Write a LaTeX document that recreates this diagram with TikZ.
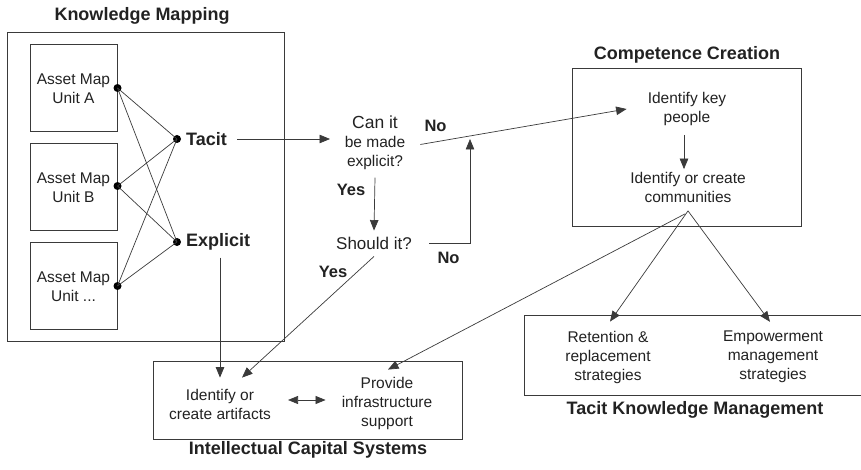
\documentclass[tikz,border=0pt]{standalone}
\usepackage{fontspec}
\setmainfont{Liberation Sans}
\usetikzlibrary{arrows.meta}
\definecolor{ink}{HTML}{222222}
\definecolor{rule}{HTML}{3A3A3A}
\begin{document}
\begin{tikzpicture}[x=1pt,y=-1pt,
  txt/.style={align=center,inner sep=0pt,text=ink,font=\fontsize{15.5}{19}\selectfont},
  ttl/.style={inner sep=0pt,text=ink,font=\bfseries\fontsize{18}{20}\selectfont},
  yn/.style={inner sep=0pt,text=ink,font=\bfseries\fontsize{16.5}{18}\selectfont},
  box/.style={draw=rule,line width=0.9pt,inner sep=0pt},
  dot/.style={circle,fill=black,inner sep=0pt,minimum size=8pt},
  wire/.style={draw=rule,line width=0.7pt},
  arr/.style={wire,-{Triangle[length=10.5pt,width=8.5pt]}},
  darr/.style={wire,{Triangle[length=10pt,width=8pt]}-{Triangle[length=10pt,width=8pt]}}]
\useasboundingbox (0,0) rectangle (861,470);

% ---- Knowledge Mapping ----
\node[ttl] (kmt) at (142,16) {Knowledge Mapping};
\node[box,minimum width=277pt,minimum height=309pt] (km) at (145.5,186.5) {};
\node[box,minimum width=87pt,minimum height=87pt] (ua) at (73.5,87.5) {};
\node[box,minimum width=87pt,minimum height=87pt] (ub) at (73.5,186.5) {};
\node[box,minimum width=87pt,minimum height=87pt] (uc) at (73.5,285.5) {};
\node[txt] at (73.5,89) {Asset Map\\Unit A};
\node[txt] at (73.5,188) {Asset Map\\Unit B};
\node[txt] at (73.5,287) {Asset Map\\Unit ...};
\node[dot] (da) at (117.5,88) {};
\node[dot] (db) at (117.5,186) {};
\node[dot] (dc) at (117.5,286) {};
\node[dot] (dt) at (177,139) {};
\node[dot] (de) at (177,242) {};
\node[ttl,anchor=west] (tacit) at (186,139) {Tacit};
\node[ttl,anchor=west] (expl) at (186,242) {Explicit};
\foreach \s in {da,db,dc}{
  \draw[wire] (\s.center) -- (dt.center);
  \draw[wire] (\s.center) -- (de.center);
}

% ---- decisions ----
\node[txt] (canit) at (375,142.5) {{\fontsize{17.5}{19}\selectfont Can it}\\be made\\explicit?};
\node[txt,font=\fontsize{17}{19}\selectfont] (should) at (374,243) {Should it?};
\node[yn] at (435.5,126) {No};
\node[yn] at (448.5,257.5) {No};
\node[yn] at (351,189.5) {Yes};
\node[yn] at (333,271.5) {Yes};

% ---- Competence Creation ----
\node[ttl] (cct) at (687,55) {Competence Creation};
\node[box,minimum width=229pt,minimum height=158pt] (cc) at (686.5,147) {};
\node[txt] (keyp) at (687,109) {Identify key\\people};
\node[txt] (comm) at (688,187.5) {Identify or create\\communities};

% ---- Tacit Knowledge Management ----
\draw[wire,line width=0.9pt] (866,315) -- (524,315) -- (524,395) -- (866,395);
\node[txt] (ret) at (608,357) {Retention \&\\replacement\\strategies};
\node[txt] (emp) at (773,357) {Empowerment\\management\\strategies};
\node[ttl] (tkmt) at (695,410) {Tacit Knowledge Management};

% ---- Intellectual Capital Systems ----
\node[box,minimum width=309pt,minimum height=78pt] (ics) at (307.5,400) {};
\node[txt] (art) at (220,404) {Identify or\\create artifacts};
\node[txt] (prov) at (387,403) {Provide\\infrastructure\\support};
\node[ttl] (icst) at (308,450) {Intellectual Capital Systems};

% ---- connectors ----
\draw[arr] ([xshift=10pt]tacit.east) -- (330,139);
\draw[arr] ([yshift=-8pt]canit.south) -- ([yshift=6pt]should.north);
\coordinate (rise) at (470,139);
\draw[arr] ([xshift=17pt]should.east) -| (rise);
\draw[arr] ([xshift=15pt,yshift=-2pt]canit.east) -- ([xshift=-21pt]keyp.west);
\draw[arr] ([xshift=-3pt,yshift=-9pt]keyp.south) -- ([xshift=-4pt,yshift=3pt]comm.north);
\coordinate (apex) at ([yshift=-8pt]comm.south);
\draw[arr] (apex) -- ([xshift=2pt,yshift=9pt]ret.north);
\draw[arr] (apex) -- ([xshift=-3pt,yshift=9pt]emp.north);
\draw[arr] ([xshift=-3pt,yshift=-3pt]apex) -- ([xshift=1pt,yshift=7pt]prov.north);
\draw[arr] ([yshift=-7pt]expl.south -| art.north) -- ([yshift=11pt]art.north);
\draw[arr] ([yshift=-7pt]should.south) -- ([xshift=22pt,yshift=11pt]art.north);
\draw[darr] ([xshift=17pt,yshift=4pt]art.east) -- ([xshift=-16pt,yshift=4pt]art.east -| prov.west);
\end{tikzpicture}
\end{document}
